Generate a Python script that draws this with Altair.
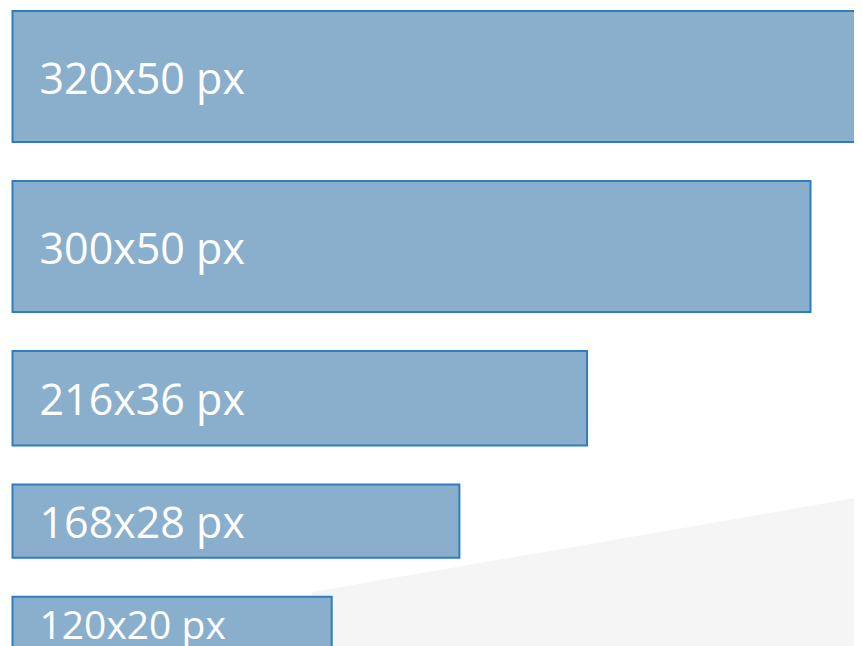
import altair as alt
import pandas as pd

# Banner sizes (width x height in px)
labels = ["320x50 px", "300x50 px", "216x36 px", "168x28 px", "120x20 px"]
widths = [320, 300, 216, 168, 120]
heights = [50, 50, 36, 28, 20]

# decorative background wedge (bottom right)
wedge_x = [112.6, 316.4]
wedge_top = [221.8, 186.0]
wedge_bottom = [242.5, 242.5]

GAP = 14.9  # spacing between banners, in the same units

df = pd.DataFrame({"label": labels, "w": widths, "h": heights})
df["x0"] = 0
tops = []
acc = 0.0
for h in heights:
    tops.append(acc)
    acc += h + GAP
df["top"] = tops
df["bottom"] = df["top"] + df["h"]
df["mid"] = (df["top"] + df["bottom"]) / 2

wedge = pd.DataFrame({"x": wedge_x, "y": wedge_top, "y2": wedge_bottom})

W, H = 846, 638
xscale = alt.Scale(domain=[-4.5 / 2.66, (W - 4.5) / 2.66], nice=False, zero=False)
yscale = alt.Scale(domain=[-3 / 2.62, (H - 3) / 2.62], nice=False, zero=False, reverse=True)

bg = alt.Chart(wedge).mark_area(color="#f5f5f5", clip=True).encode(
    x=alt.X("x:Q", scale=xscale, axis=None),
    y=alt.Y("y:Q", scale=yscale, axis=None),
    y2="y2:Q",
)

bars = alt.Chart(df).mark_rect(
    fill="#8aafcd", stroke="#2e7dc0", strokeWidth=2, clip=True
).encode(
    x=alt.X("x0:Q", scale=xscale, axis=None),
    x2="w:Q",
    y=alt.Y("top:Q", scale=yscale, axis=None),
    y2="bottom:Q",
)

text = alt.Chart(df).mark_text(
    align="left", baseline="middle", color="white", font="Open Sans", dx=27, dy=4, clip=True
).encode(
    x=alt.X("x0:Q", scale=xscale, axis=None),
    y=alt.Y("mid:Q", scale=yscale, axis=None),
    text="label:N",
    size=alt.condition("datum.h < 25", alt.value(39), alt.value(43)),
)

chart = (
    alt.layer(bg, bars, text)
    .properties(width=W, height=H, padding=0, autosize=alt.AutoSizeParams(type="none"))
    .configure_view(stroke=None)
)

chart.save("out.html", embed_options={"renderer": "svg", "actions": False})
